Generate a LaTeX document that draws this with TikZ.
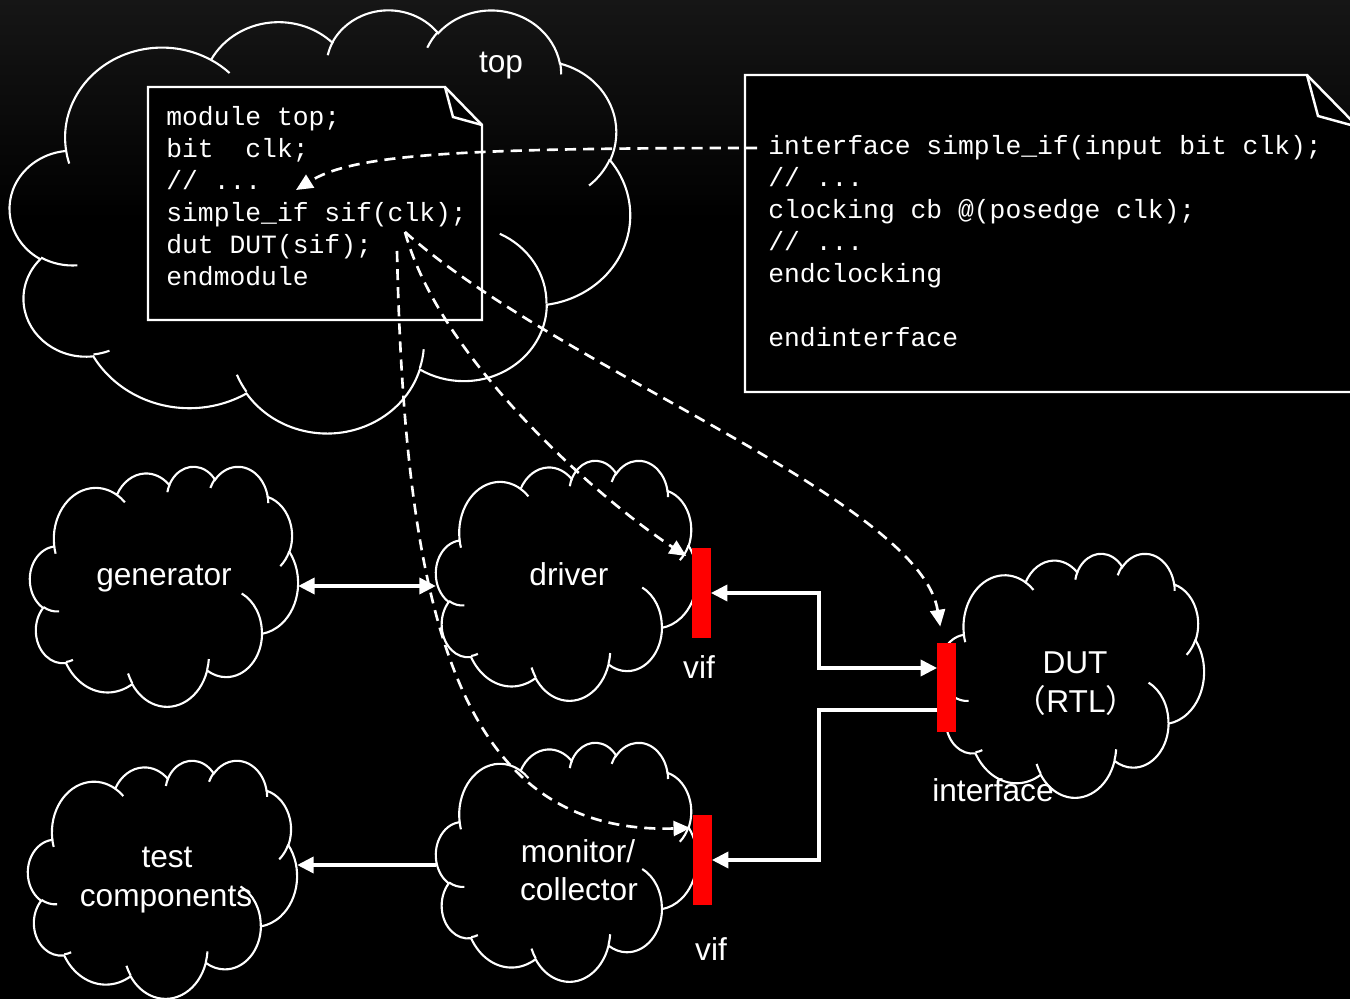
\documentclass[tikz,border=0pt]{standalone}
\usepackage{fontspec}
\setmainfont{Liberation Sans}
\newfontfamily\codefont{Liberation Mono}
\newfontfamily\cjkfont{Noto Sans CJK SC}
\usetikzlibrary{arrows.meta,calc}

\definecolor{bgtop}{HTML}{161616}
\definecolor{barred}{HTML}{FF0000}

% elliptical arc given by radii, visual start angle and sweep (degrees)
\newcommand\ooarc[4]{%
  arc[x radius=#1, y radius=#2,
      start angle={atan2((#1)*sin(#3),(#2)*cos(#3))},
      delta angle={Mod(atan2((#1)*sin((#3)+(#4)),(#2)*cos((#3)+(#4)))-atan2((#1)*sin(#3),(#2)*cos(#3)),360)}]}

% cloud: name, left, top, width, height
\newcommand\cloudshape[5]{%
  \node[frame, minimum width=#4*0.02cm, minimum height=#5*0.02cm] (#1) at ({#2+#4/2},{#3+#5/2}) {};
  \pgfmathsetmacro\cloudsx{#4*0.02/43.2}%
  \pgfmathsetmacro\cloudsy{-#5*0.02/43.2}%
  \begin{scope}[shift={(#2,#3)}, x=\cloudsx cm, y=\cloudsy cm]
    \draw[cloudline] (3.900,14.370)
      \ooarc{6.753}{9.190}{-190.4875}{123.7805}
      \ooarc{5.333}{7.267}{-144.1024}{89.9452}
      \ooarc{4.365}{5.945}{-145.8079}{99.7230}
      \ooarc{4.857}{6.595}{-130.9861}{117.2417}
      \ooarc{5.333}{7.273}{-78.7089}{109.0269}
      \ooarc{6.775}{9.220}{-46.2673}{130.2690}
      \ooarc{5.785}{7.867}{0.6250}{114.0333}
      \ooarc{6.752}{9.215}{22.4516}{115.1726}
      \ooarc{7.720}{10.543}{66.2426}{75.7110}
      \ooarc{4.360}{5.918}{-274.9421}{146.7356}
      \ooarc{4.345}{5.945}{-246.8285}{152.5189} -- cycle;
    \draw[cloudline]
      (4.693,26.177) \ooarc{4.345}{5.945}{86.7420}{26.4295}
      (6.928,34.899) \ooarc{4.360}{5.918}{73.6105}{11.4475}
      (16.478,39.090) \ooarc{6.752}{9.215}{137.6242}{14.0811}
      (28.827,34.751) \ooarc{6.752}{9.215}{6.4533}{15.9984}
      (34.129,22.954) \ooarc{5.785}{7.867}{-70.2924}{70.9174}
      (41.798,15.354) \ooarc{5.333}{7.273}{30.3180}{27.7515}
      (38.324,5.426) \ooarc{4.857}{6.595}{-13.7443}{14.8589}
      (29.078,3.952) \ooarc{4.857}{6.595}{-149.1815}{18.1954}
      (22.141,4.720) \ooarc{4.365}{5.945}{-163.4943}{17.6864}
      (14.000,5.192) \ooarc{6.753}{9.190}{-66.7070}{12.3194}
      (4.127,15.789) \ooarc{6.753}{9.190}{157.65}{11.86};
  \end{scope}}

\tikzset{
  frame/.style={rectangle, inner sep=0pt, outer sep=0pt},
  cloudline/.style={draw=white, line width=1.2pt},
  boxline/.style={draw=white, line width=1.4pt, fill=black, line join=miter},
  foldline/.style={draw=white, line width=1.4pt, line join=miter},
  vifbar/.style={rectangle, fill=barred, inner sep=0pt, outer sep=0pt, minimum width=0.37cm, minimum height=1.8cm},
  lbl/.style={text=white, font=\fontsize{18}{22}\selectfont, inner sep=0pt, anchor=base},
  codetxt/.style={text=white, font=\codefont\fontsize{15}{18}\selectfont, inner sep=0pt, anchor=base west},
  flow/.style={draw=white, line width=2.6pt, >={Triangle[length=9.5pt,width=9pt]}},
  link/.style={draw=white, line width=1.5pt, dash pattern=on 6.3pt off 4pt, -{Triangle[length=9.5pt,width=8.5pt]}},
}

\begin{document}
\begin{tikzpicture}[x=0.02cm, y=-0.02cm]
  \useasboundingbox (0,0) rectangle (1350,999);
  \clip (0,0) rectangle (1350,999);
  \fill[black] (0,0) rectangle (1350,999);
  \shade[top color=bgtop, bottom color=black] (0,0) rectangle (1350,220);

  % the enclosing "top" module
  \cloudshape{topcl}{10}{9}{620}{423}

  % code of module top
  \node[frame, minimum width=334*0.02cm, minimum height=233*0.02cm] (topcode) at (315,203.5) {};
  \draw[boxline] (topcode.north west) -- ($(topcode.north east)+(-37,0)$)
    -- ($(topcode.north east)+(0,38)$) -- (topcode.south east)
    -- (topcode.south west) -- cycle;
  \draw[foldline] ($(topcode.north east)+(-37,0)$) -- ($(topcode.north east)+(-29,30)$)
    -- ($(topcode.north east)+(0,38)$);

  % code of the interface
  \node[frame, minimum width=613*0.02cm, minimum height=317*0.02cm] (ifcode) at (1051.5,233.5) {};
  \draw[boxline] (ifcode.north west) -- ($(ifcode.north east)+(-51,0)$)
    -- ($(ifcode.north east)+(0,52)$) -- (ifcode.south east)
    -- (ifcode.south west) -- cycle;
  \draw[foldline] ($(ifcode.north east)+(-51,0)$) -- ($(ifcode.north east)+(-40,41)$)
    -- ($(ifcode.north east)+(0,52)$);

  % testbench components
  \cloudshape{gen}{30}{466}{268}{240}
  \cloudshape{test}{28}{760}{269}{238}
  \cloudshape{drv}{436}{460}{261}{240}
  \cloudshape{mon}{436}{742}{261}{239}
  \cloudshape{dut}{940}{553}{264}{244}

  % virtual interfaces and the interface instance
  \node[vifbar] (vifD) at (701.5,593) {};
  \node[vifbar] (vifM) at (702.5,860) {};
  \node[vifbar] (iface) at (946.5,687.5) {};

  % code lines
  \node[codetxt] (t1) at (166,126) {module top;};
  \node[codetxt] (t2) at (166,158) {bit\ \ clk;};
  \node[codetxt] (t3) at (166,190) {// ...};
  \node[codetxt] (t4) at (166,222) {simple\_if sif(clk);};
  \node[codetxt] (t5) at (166,254) {dut DUT(sif);};
  \node[codetxt] (t6) at (166,286) {endmodule};

  \node[codetxt] (i1) at (768,155) {interface simple\_if(input bit clk);};
  \node[codetxt] (i2) at (768,187) {// ...};
  \node[codetxt] (i3) at (768,219) {clocking cb @(posedge clk);};
  \node[codetxt] (i4) at (768,251) {// ...};
  \node[codetxt] (i5) at (768,283) {endclocking};
  \node[codetxt] (i6) at (768,347) {endinterface};

  % data paths
  \draw[flow,<->] (gen.east) -- (gen.east -| drv.west);
  \coordinate (busA) at (819,668);
  \coordinate (busB) at (819,710);
  \draw[flow,<->] (vifD.east) -| (busA) -- (busA -| iface.west);
  \draw[flow,->] (busB -| iface.west) -- (busB) |- (vifM.east);
  \draw[flow,->] ($(mon.west)+(0,3.5)$) coordinate (mtA) -- (mtA -| test.east);

  % references from the code
  \coordinate (ifsrc) at (757,148);
  \coordinate (dots) at (296,190);
  \coordinate (sifA) at (405,232);
  \coordinate (sifB) at (397,251);
  \draw[link] (ifsrc) .. controls (450,148) and (352,155) .. (dots);
  \draw[link] (sifA) .. controls (440,360) and (600,500) .. ($(vifD.north west)+(-6,8)$);
  \draw[link] (sifA) .. controls (560,370) and (920,500) .. ($(iface.north west)+(3,-16)$);
  \draw[link] (sifB) .. controls (405,620) and (460,835) .. ($(vifM.north west)+(-3,13)$);

  % labels
  \node[lbl] (toplbl) at (501,73) {top};
  \node[lbl] (genlbl) at (164,586) {generator};
  \node[lbl] (drvlbl) at (569,586) {driver};
  \node[lbl] (vifDlbl) at (699,679) {vif};
  \node[lbl] (monlbl1) at (578,863) {monitor/};
  \node[lbl] (monlbl2) at (579,901) {collector};
  \node[lbl] (vifMlbl) at (711,961) {vif};
  \node[lbl] (testlbl1) at (167,868) {test};
  \node[lbl] (testlbl2) at (166,907) {components};
  \node[lbl] (dutlbl1) at (1075,674) {DUT};
  \node[lbl] (dutlbl2) at (1076,713) {{\cjkfont （}RTL{\cjkfont ）}};
  \node[lbl] (ifacelbl) at (993,802) {interface};
\end{tikzpicture}
\end{document}
